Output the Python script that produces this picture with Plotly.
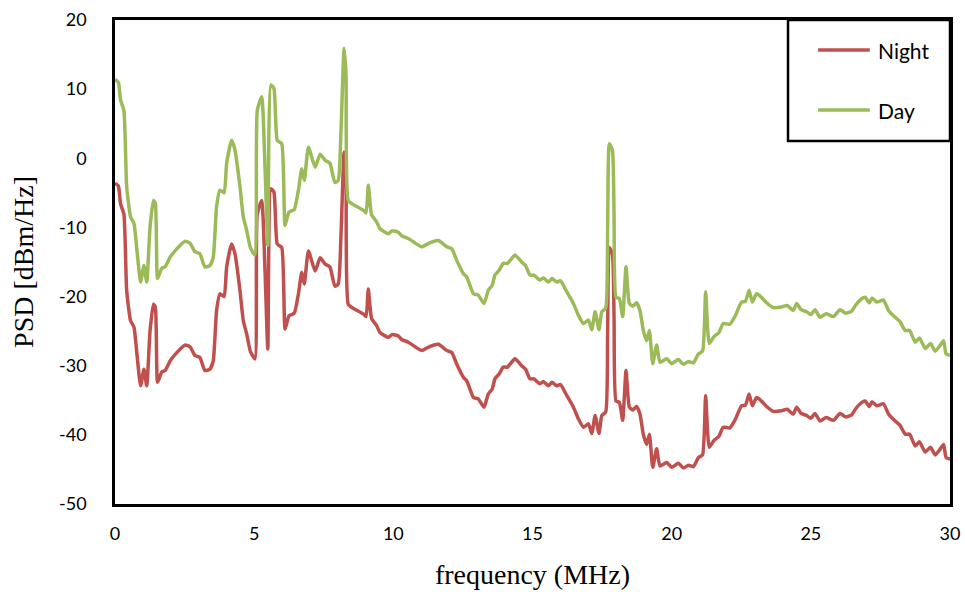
import plotly.graph_objects as go

freq = [
    0, 0.12, 0.2, 0.32, 0.42, 0.56, 0.68, 0.8, 0.92, 1.04,
    1.14, 1.26, 1.38, 1.45, 1.53, 1.68, 1.8, 1.98, 2.22, 2.52,
    2.7, 2.87, 3.05, 3.23, 3.41, 3.53, 3.65, 3.77, 3.92, 4.01,
    4.19, 4.31, 4.49, 4.61, 4.73, 4.87, 5.03, 5.11, 5.27, 5.39,
    5.49, 5.6, 5.71, 5.83, 5.99, 6.11, 6.25, 6.44, 6.59, 6.71,
    6.8, 6.95, 7.19, 7.37, 7.55, 7.72, 7.9, 8.02, 8.12, 8.23,
    8.3, 8.38, 8.56, 8.92, 9.02, 9.1, 9.22, 9.4, 9.52, 9.82,
    9.95, 10.18, 10.3, 10.54, 11.02, 11.32, 11.62, 11.92, 12.1, 12.28,
    12.52, 12.64, 12.88, 13.05, 13.26, 13.41, 13.55, 13.65, 13.8, 13.95,
    14.1, 14.37, 14.61, 14.75, 14.91, 15.05, 15.25, 15.4, 15.57, 15.7,
    15.87, 16.0, 16.23, 16.47, 16.65, 16.83, 17.01, 17.13, 17.25, 17.39,
    17.49, 17.63, 17.7, 17.76, 17.87, 17.93, 18.0, 18.12, 18.24, 18.36,
    18.48, 18.6, 18.74, 18.86, 18.98, 19.1, 19.2, 19.32, 19.46, 19.58,
    19.82, 20.0, 20.24, 20.42, 20.6, 20.78, 20.96, 21.11, 21.22, 21.35,
    21.52, 21.7, 21.85, 22.09, 22.27, 22.51, 22.65, 22.78, 22.9, 23.05,
    23.2, 23.41, 23.65, 23.95, 24.15, 24.37, 24.49, 24.65, 24.85, 25.0,
    25.15, 25.33, 25.55, 25.81, 26.05, 26.25, 26.47, 26.6, 26.77, 26.95,
    27.1, 27.2, 27.37, 27.61, 27.79, 28.03, 28.2, 28.39, 28.55, 28.75,
    28.9, 29.11, 29.3, 29.47, 29.62, 29.77, 29.86, 30,
]

day_psd = [
    11.4, 11.0, 8.4, 6.9, -4.1, -8.5, -9.4, -13.8, -17.9, -15.5,
    -17.9, -9.9, -6.1, -6.5, -17.4, -15.9, -15.7, -14.3, -13.1, -12.0,
    -12.3, -13.5, -13.8, -15.7, -15.5, -14.3, -7.0, -4.6, -5.0, -0.8,
    2.6, 1.2, -4.1, -8.5, -10.4, -13.0, -14.0, 6.9, 8.9, -1.3,
    -12.6, 10.6, 10.1, 2.6, 2.1, -9.7, -7.8, -7.4, -4.6, -1.5,
    -3.2, 1.6, -1.3, 0.6, -0.3, -0.7, -3.5, -3.2, 4.0, 15.9,
    12.0, -6.1, -6.7, -7.5, -7.9, -3.9, -8.2, -9.2, -10.2, -10.9,
    -10.5, -10.7, -11.2, -11.6, -12.8, -12.2, -11.9, -12.8, -13.1, -14.8,
    -16.7, -17.2, -19.6, -19.8, -21.0, -19.1, -18.4, -16.9, -16.2, -15.2,
    -15.2, -14.0, -15.0, -15.5, -16.9, -16.9, -17.6, -17.3, -17.9, -17.4,
    -17.9, -17.7, -19.3, -21.0, -22.7, -23.9, -23.4, -24.8, -22.2, -24.8,
    -22.2, -21.7, -10.0, 2.1, 1.2, -8.0, -20.1, -20.3, -22.9, -15.7,
    -21.0, -21.4, -20.9, -22.0, -24.9, -26.4, -24.9, -29.7, -27.0, -29.5,
    -29.0, -29.7, -29.1, -29.8, -29.4, -29.6, -28.3, -27.9, -19.3, -26.8,
    -25.8, -25.2, -23.9, -24.0, -22.9, -20.8, -20.7, -19.1, -20.8, -19.6,
    -20.0, -20.9, -21.6, -21.5, -21.3, -22.0, -21.0, -21.9, -22.2, -22.6,
    -21.9, -23.0, -22.5, -22.9, -21.9, -22.4, -22.1, -21.3, -20.5, -20.1,
    -20.9, -20.2, -20.8, -20.5, -22.0, -23.0, -23.6, -24.9, -24.9, -26.6,
    -26.0, -27.5, -26.8, -27.9, -27.2, -26.4, -28.3, -28.5,
]

night_psd = [
    -3.6, -4.0, -6.6, -8.1, -19.1, -23.5, -24.4, -28.8, -32.9, -30.5,
    -32.9, -24.9, -21.1, -21.5, -32.4, -30.9, -30.7, -29.3, -28.1, -27.0,
    -27.3, -28.5, -28.8, -30.7, -30.5, -29.3, -22.0, -19.6, -20.0, -15.8,
    -12.4, -13.8, -19.1, -23.5, -25.4, -28.0, -29.0, -8.1, -6.1, -16.3,
    -27.6, -4.4, -4.9, -12.4, -12.9, -24.7, -22.8, -22.4, -19.6, -16.5,
    -18.2, -13.4, -16.3, -14.4, -15.3, -15.7, -18.5, -18.2, -11.0, 0.9,
    -3.0, -21.1, -21.7, -22.5, -22.9, -18.9, -23.2, -24.2, -25.2, -25.9,
    -25.5, -25.7, -26.2, -26.6, -27.8, -27.2, -26.9, -27.8, -28.1, -29.8,
    -31.7, -32.2, -34.6, -34.8, -36.0, -34.1, -33.4, -31.9, -31.2, -30.2,
    -30.2, -29.0, -30.0, -30.5, -31.9, -31.9, -32.6, -32.3, -32.9, -32.4,
    -32.9, -32.7, -34.3, -36.0, -37.7, -38.9, -38.4, -39.8, -37.2, -39.8,
    -37.2, -36.7, -25.0, -12.9, -13.8, -23.0, -35.1, -35.3, -37.9, -30.7,
    -36.0, -36.4, -35.9, -37.0, -39.9, -41.4, -39.9, -44.7, -42.0, -44.5,
    -44.0, -44.7, -44.1, -44.8, -44.4, -44.6, -43.3, -42.9, -34.3, -41.8,
    -40.8, -40.2, -38.9, -39.0, -37.9, -35.8, -35.7, -34.1, -35.8, -34.6,
    -35.0, -35.9, -36.6, -36.5, -36.3, -37.0, -36.0, -36.9, -37.2, -37.6,
    -36.9, -38.0, -37.5, -37.9, -36.9, -37.4, -37.1, -36.3, -35.5, -35.1,
    -35.9, -35.2, -35.8, -35.5, -37.0, -38.0, -38.6, -39.9, -39.9, -41.6,
    -41.0, -42.5, -41.8, -42.9, -42.2, -41.4, -43.3, -43.5,
]

x_ticks = [0, 5, 10, 15, 20, 25, 30]
x_ticktext = ["0", "5", "10", "15", "20", "25", "30"]
y_ticks = [-50, -40, -30, -20, -10, 0, 10, 20]
y_ticktext = ["-50", "-40", "-30", "-20", "-10", "0", "10", "20"]

series_names = ["Night", "Day"]
series_colors = ["#C0504D", "#9BBB59"]

fig = go.Figure()
for name, vals, col in zip(series_names, [night_psd, day_psd], series_colors):
    fig.add_trace(go.Scatter(x=freq, y=vals, name=name, mode="lines",
                             showlegend=False,
                             line=dict(color=col, width=3.5, shape="spline", smoothing=0.5)))

sans = "Lato, Open Sans, sans-serif"
serif = "Liberation Serif, Times New Roman, serif"
tick_font = dict(family=sans, size=18, color="black")
title_font = dict(family=serif, size=28, color="black")

# Legend box (drawn in paper coordinates, top-right of the plot area)
shapes = [dict(type="rect", xref="paper", yref="paper",
               x0=0.806, x1=1.0, y0=0.75, y1=1.0,
               line=dict(color="black", width=2.5), fillcolor="white", layer="above")]
annotations = []
legend_y = [0.938, 0.814]
for name, col, ly in zip(series_names, series_colors, legend_y):
    shapes.append(dict(type="line", xref="paper", yref="paper",
                       x0=0.842, x1=0.904, y0=ly, y1=ly,
                       line=dict(color=col, width=3.5), layer="above"))
    annotations.append(dict(text=name, xref="paper", yref="paper",
                            x=0.911, y=ly, xanchor="left", yanchor="middle",
                            showarrow=False, font=dict(family=sans, size=21, color="black")))

fig.update_layout(
    width=965, height=597,
    margin=dict(l=115, r=15, t=20, b=93, autoexpand=False),
    paper_bgcolor="white", plot_bgcolor="white",
    showlegend=False,
    shapes=shapes,
    annotations=annotations,
    xaxis=dict(
        range=[0, 30], tickvals=x_ticks, ticktext=x_ticktext,
        showgrid=False, zeroline=False, automargin=False,
        showline=True, linecolor="black", linewidth=2.5, mirror=True,
        ticks="", tickfont=tick_font, ticklabelstandoff=12,
        title=dict(text="frequency (MHz)", font=title_font, standoff=22),
    ),
    yaxis=dict(
        range=[-50, 20], tickvals=y_ticks, ticktext=y_ticktext,
        showgrid=False, zeroline=False, automargin=False,
        showline=True, linecolor="black", linewidth=2.5, mirror=True,
        ticks="", tickfont=tick_font, ticklabelstandoff=22,
        title=dict(text="PSD [dBm/Hz]", font=title_font, standoff=18),
    ),
)

fig.write_html("out.html")
